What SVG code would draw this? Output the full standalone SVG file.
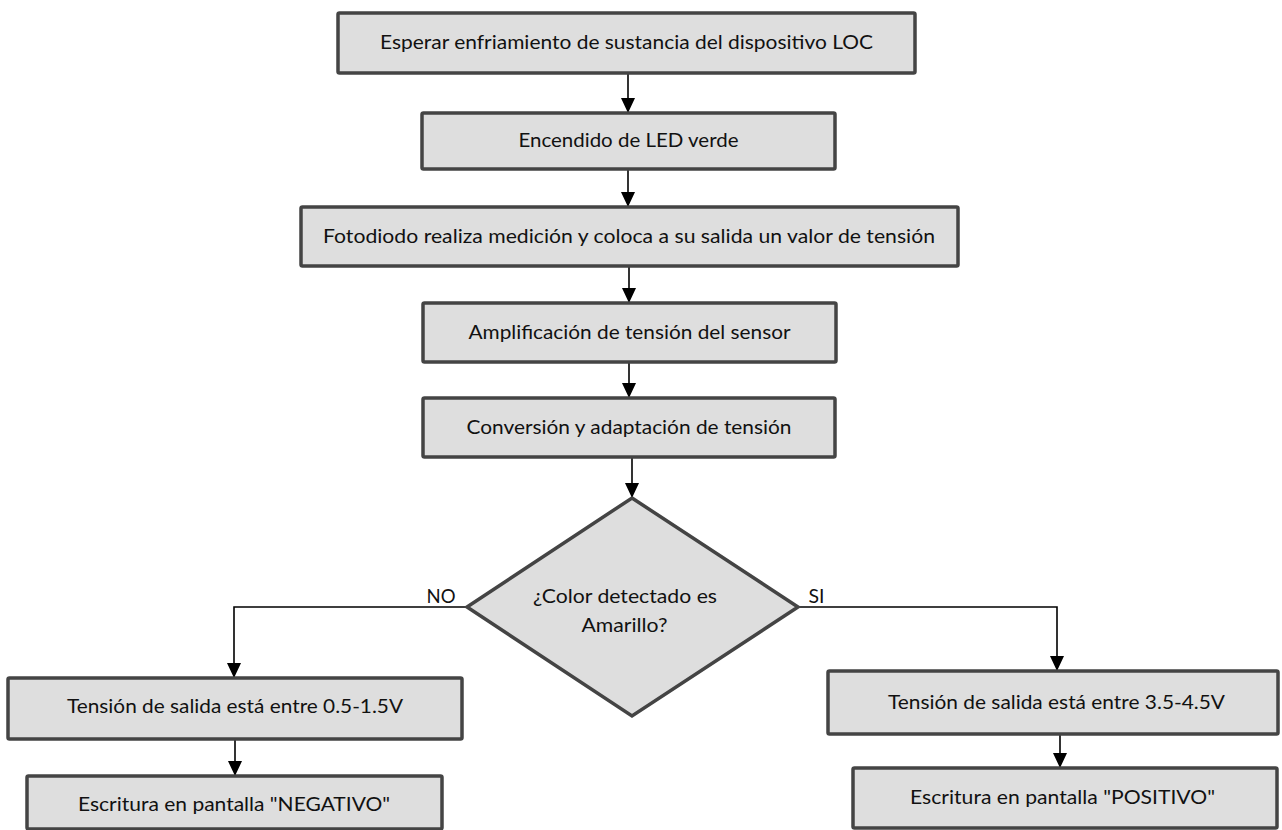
<svg xmlns="http://www.w3.org/2000/svg" width="1282" height="830" viewBox="0 0 1282 830">
<style>
.box{fill:#dedede;stroke:#444;stroke-width:3.5}
.t{font-family:Lato,"Liberation Sans",sans-serif;font-size:20px;fill:#111;text-anchor:middle}
.c{fill:none;stroke:#000;stroke-width:1.6}
</style>
<defs>
<marker id="ah" markerUnits="userSpaceOnUse" markerWidth="14" markerHeight="16" viewBox="0 0 14 16" refX="7" refY="15" orient="auto-start-reverse">
<path d="M0,0 L14,0 L7,15 Z" fill="#000" transform="rotate(0)"/>
</marker>
<marker id="av" markerUnits="userSpaceOnUse" markerWidth="14" markerHeight="16" viewBox="0 0 14 16" refX="7" refY="15" orient="0">
<path d="M0,0 L14,0 L7,15 Z" fill="#000"/>
</marker>
</defs>
<rect width="1282" height="830" fill="#fff"/>
<g id="connectors">
<path class="c" d="M628,73 V113" marker-end="url(#av)"/>
<path class="c" d="M628,169 V207" marker-end="url(#av)"/>
<path class="c" d="M629,266 V303" marker-end="url(#av)"/>
<path class="c" d="M629,362 V398" marker-end="url(#av)"/>
<path class="c" d="M632,457 V498" marker-end="url(#av)"/>
<path class="c" d="M467,607 H234 V678" marker-end="url(#av)"/>
<path class="c" d="M798,607 H1057 V671" marker-end="url(#av)"/>
<path class="c" d="M235,739 V776" marker-end="url(#av)"/>
<path class="c" d="M1060,734 V768" marker-end="url(#av)"/>
<text class="t" x="441" y="603" textLength="29" lengthAdjust="spacingAndGlyphs">NO</text>
<text class="t" x="816.5" y="603" textLength="16" lengthAdjust="spacingAndGlyphs">SI</text>
</g>
<g id="n1"><rect class="box" x="338" y="13" width="577" height="60" rx="1.5"/><text class="t" x="626.5" y="48.5" textLength="493" lengthAdjust="spacingAndGlyphs">Esperar enfriamiento de sustancia del dispositivo LOC</text></g>
<g id="n2"><rect class="box" x="422" y="113" width="413" height="56" rx="1.5"/><text class="t" x="628.5" y="146.5" textLength="220" lengthAdjust="spacingAndGlyphs">Encendido de LED verde</text></g>
<g id="n3"><rect class="box" x="301" y="207" width="657" height="59" rx="1.5"/><text class="t" x="629" y="243" textLength="612" lengthAdjust="spacingAndGlyphs">Fotodiodo realiza medición y coloca a su salida un valor de tensión</text></g>
<g id="n4"><rect class="box" x="423" y="303" width="413" height="59" rx="1.5"/><text class="t" x="629.5" y="339" textLength="322" lengthAdjust="spacingAndGlyphs">Amplificación de tensión del sensor</text></g>
<g id="n5"><rect class="box" x="423" y="398" width="412" height="59" rx="1.5"/><text class="t" x="629" y="434" textLength="325" lengthAdjust="spacingAndGlyphs">Conversión y adaptación de tensión</text></g>
<g id="n6"><polygon class="box" points="632,498 798,607 632,716 467,607" stroke-width="4"/><text class="t" x="625" y="603" textLength="184" lengthAdjust="spacingAndGlyphs">¿Color detectado es</text><text class="t" x="624.5" y="632" textLength="86" lengthAdjust="spacingAndGlyphs">Amarillo?</text></g>
<g id="n7"><rect class="box" x="8" y="678" width="454" height="61" rx="1.5"/><text class="t" x="235" y="713" textLength="336" lengthAdjust="spacingAndGlyphs">Tensión de salida está entre 0.5-1.5V</text></g>
<g id="n8"><rect class="box" x="27" y="776" width="415" height="53" rx="1.5"/><text class="t" x="234" y="811" textLength="312" lengthAdjust="spacingAndGlyphs">Escritura en pantalla "NEGATIVO"</text></g>
<g id="n9"><rect class="box" x="828" y="671" width="450" height="63" rx="1.5"/><text class="t" x="1056.5" y="709" textLength="337" lengthAdjust="spacingAndGlyphs">Tensión de salida está entre 3.5-4.5V</text></g>
<g id="n10"><rect class="box" x="853" y="768" width="424" height="60" rx="1.5"/><text class="t" x="1062.5" y="804" textLength="305" lengthAdjust="spacingAndGlyphs">Escritura en pantalla "POSITIVO"</text></g>
</svg>
